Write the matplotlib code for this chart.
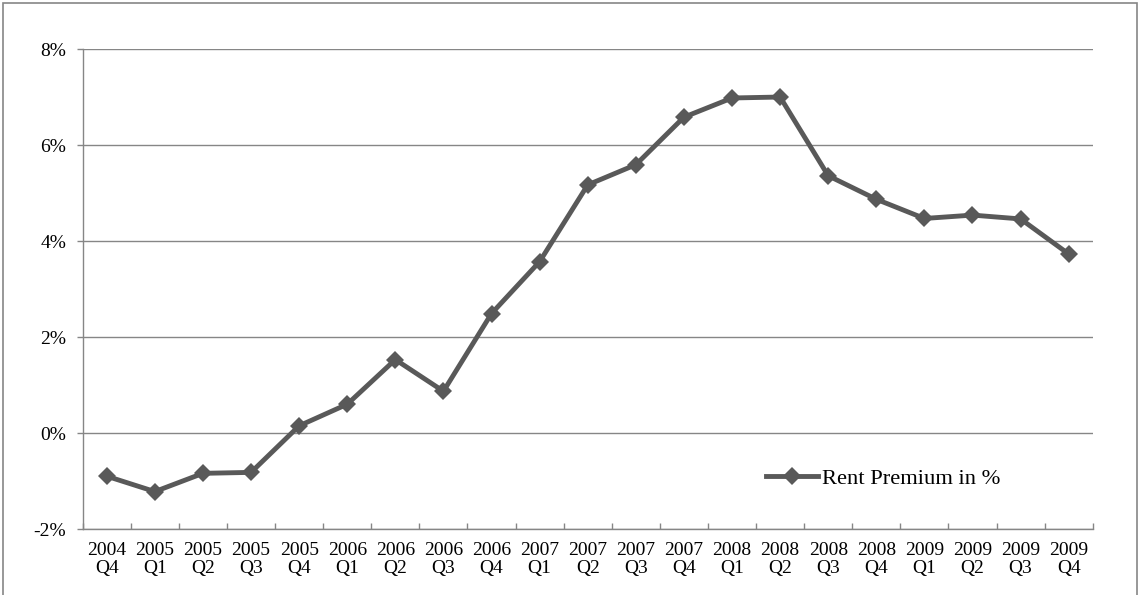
import matplotlib
matplotlib.use("Agg")
import matplotlib.pyplot as plt
from matplotlib.patches import Rectangle
from matplotlib.ticker import FixedLocator, FuncFormatter

plt.rcParams["font.family"] = ["Liberation Serif", "DejaVu Serif"]

# Quarterly rent premium series
years = ["2004", "2005", "2005", "2005", "2005", "2006", "2006", "2006", "2006",
         "2007", "2007", "2007", "2007", "2008", "2008", "2008", "2008",
         "2009", "2009", "2009", "2009"]
quarters = ["Q4", "Q1", "Q2", "Q3", "Q4", "Q1", "Q2", "Q3", "Q4",
            "Q1", "Q2", "Q3", "Q4", "Q1", "Q2", "Q3", "Q4",
            "Q1", "Q2", "Q3", "Q4"]
premium = [-0.90, -1.22, -0.84, -0.82, 0.15, 0.60, 1.53, 0.87, 2.49,
           3.57, 5.17, 5.59, 6.58, 6.98, 7.00, 5.36, 4.87,
           4.47, 4.54, 4.46, 3.73]
y_ticks = [-2, 0, 2, 4, 6, 8]
series_name = "Rent Premium in %"

line_color = "#595959"
axis_gray = "#868686"

fig = plt.figure(figsize=(11.41, 5.95), dpi=100)
ax = fig.add_axes([0.0725, 0.1109, 0.9577 - 0.0725, 0.9176 - 0.1109])

x = list(range(len(premium)))
labels = [f"{y}\n{q}" for y, q in zip(years, quarters)]

ax.plot(x, premium, color=line_color, lw=3.5, marker="D", markersize=9,
        markeredgewidth=0, solid_joinstyle="round", label=series_name, zorder=3)

ax.set_xlim(-0.5, len(premium) - 0.5)
ax.set_ylim(y_ticks[0], y_ticks[-1])

# y axis: percentage labels and gridlines
ax.set_yticks(y_ticks)
ax.yaxis.set_major_formatter(FuncFormatter(lambda v, p: f"{int(round(v))}%"))
ax.yaxis.grid(True, color=axis_gray, lw=1.0)
ax.tick_params(axis="y", direction="out", length=4, width=1.0, color=axis_gray,
               pad=8, labelsize=14)

# x axis: labels centred on categories, tick marks on boundaries
ax.set_xticks(x)
ax.set_xticklabels(labels, linespacing=1.12)
ax.tick_params(axis="x", which="major", length=0, pad=9, labelsize=14)
ax.xaxis.set_minor_locator(FixedLocator([i - 0.5 for i in range(len(premium) + 1)]))
ax.tick_params(axis="x", which="minor", direction="in", length=4.5, width=1.0,
               color=axis_gray)

for side in ("top", "right"):
    ax.spines[side].set_visible(False)
for side in ("left", "bottom"):
    ax.spines[side].set_color(axis_gray)
    ax.spines[side].set_linewidth(1.0)
ax.set_axisbelow(True)

ax.legend(loc="center left", bbox_to_anchor=(0.6765, 0.106), frameon=False,
          fontsize=16.2, handlelength=2.3, handletextpad=0.2, borderpad=0,
          borderaxespad=0, numpoints=1)

# chart border
fig.patches.append(Rectangle((3 / 1141, -0.05), (1137 - 3) / 1141, 1.05 - 2.5 / 595,
                             transform=fig.transFigure, fill=False,
                             edgecolor=axis_gray, lw=1.2))

fig.savefig("out.png", dpi=100)
